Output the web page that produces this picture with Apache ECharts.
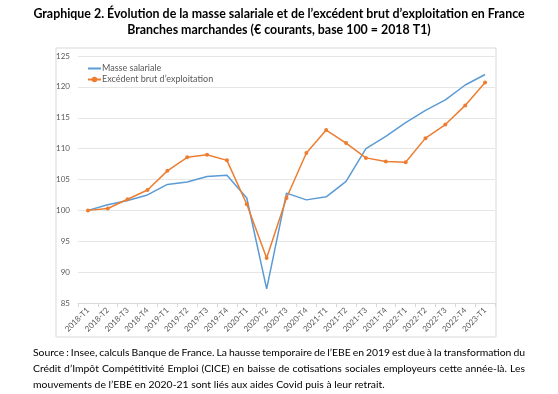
<!DOCTYPE html>
<html><head><meta charset="utf-8">
<script src="https://cdn.jsdelivr.net/npm/echarts@6/dist/echarts.min.js"></script>
<style>html,body{margin:0;padding:0;background:#fff}#c{width:558px;height:394px}</style>
</head><body><div id="c"></div>
<script>
const categories = ["2018-T1","2018-T2","2018-T3","2018-T4","2019-T1","2019-T2","2019-T3","2019-T4","2020-T1","2020-T2","2020-T3","2020-T4","2021-T1","2021-T2","2021-T3","2021-T4","2022-T1","2022-T2","2022-T3","2022-T4","2023-T1"];
const masseSalariale = [100,100.9,101.6,102.5,104.2,104.6,105.5,105.7,102,87.3,102.8,101.7,102.2,104.7,110,112,114.2,116.2,117.9,120.3,122];
const ebe = [100,100.3,101.8,103.3,106.4,108.6,109,108.1,101,92.3,102,109.3,113,110.9,108.5,107.9,107.8,111.7,113.9,117,120.7];
const titleLines = ["Graphique 2. Évolution de la masse salariale et de l’excédent brut d’exploitation en France","Branches marchandes (€ courants, base 100 = 2018 T1)"];
const noteLines = ["Source : Insee, calculs Banque de France. La hausse temporaire de l’EBE en 2019 est due à la transformation du","Crédit d’Impôt Compétitivité Emploi (CICE) en baisse de cotisations sociales employeurs cette année-là. Les","mouvements de l’EBE en 2020-21 sont liés aux aides Covid puis à leur retrait."];

const font = "Lato, 'Liberation Sans', sans-serif";
const noteFont = '10.4px Lato';
const noteLeft = 33, noteRight = 525, noteTops = [348, 364, 380];

const ctx = document.createElement('canvas').getContext('2d');
ctx.font = noteFont;
function buildNotes() {
  const out = [];
  noteLines.forEach((line, i) => {
    const justify = i < noteLines.length - 1;
    if (!justify) {
      out.push({type:'text',x:noteLeft,y:noteTops[i],style:{text:line,font:noteFont,fill:'#000',textVerticalAlign:'top'}});
      return;
    }
    const words = line.split(' ');
    const widths = words.map(w => ctx.measureText(w).width);
    const total = widths.reduce((a,b)=>a+b,0);
    const gap = (noteRight - noteLeft - total) / (words.length - 1);
    let x = noteLeft;
    words.forEach((w, j) => {
      out.push({type:'text',x:x,y:noteTops[i],style:{text:w,font:noteFont,fill:'#000',textVerticalAlign:'top'}});
      x += widths[j] + gap;
    });
  });
  return out;
}

const chart = echarts.init(document.getElementById('c'), null, {renderer:'canvas'});
chart.setOption({
  animation:false,
  textStyle:{fontFamily:font},
  grid:{left:78,right:63,top:56,bottom:91},
  legend:{orient:'vertical',left:82,top:59,itemWidth:13,itemHeight:7,itemGap:2,
    textStyle:{fontSize:9,color:'#595959',fontFamily:font,padding:[0,0,0,-4]},
    data:[{name:'Masse salariale',itemStyle:{opacity:0}},'Excédent brut d\u2019exploitation']},
  graphic:[
    {type:'rect',shape:{x:56,y:48,width:440,height:289},style:{fill:'none',stroke:'#d9d9d9',lineWidth:1},silent:true},
    {type:'text',left:'center',top:8,style:{text:titleLines[0],font:'bold 12.4px '+font,fill:'#000'}},
    {type:'text',left:'center',top:24,style:{text:titleLines[1],font:'bold 12.4px '+font,fill:'#000'}}
  ].concat(buildNotes()),
  xAxis:{type:'category',data:categories,boundaryGap:true,
    axisLine:{lineStyle:{color:'#d9d9d9'}},axisTick:{show:true,lineStyle:{color:'#d9d9d9'},length:4},
    axisLabel:{rotate:45,fontSize:8,color:'#595959',interval:0,margin:6}},
  yAxis:{type:'value',min:85,max:125,interval:5,
    axisLine:{show:false},axisTick:{show:false},
    axisLabel:{fontSize:8,color:'#595959',margin:8},
    splitLine:{lineStyle:{color:'#e6e6e6'}}},
  series:[
    {name:'Masse salariale',type:'line',data:masseSalariale,showSymbol:false,symbol:'none',
      lineStyle:{color:'#5B9BD5',width:1.5},itemStyle:{color:'#5B9BD5'}},
    {name:'Excédent brut d\u2019exploitation',type:'line',data:ebe,symbol:'circle',symbolSize:4,
      lineStyle:{color:'#ED7D31',width:1.5},itemStyle:{color:'#ED7D31'}}
  ]
});
</script></body></html>
